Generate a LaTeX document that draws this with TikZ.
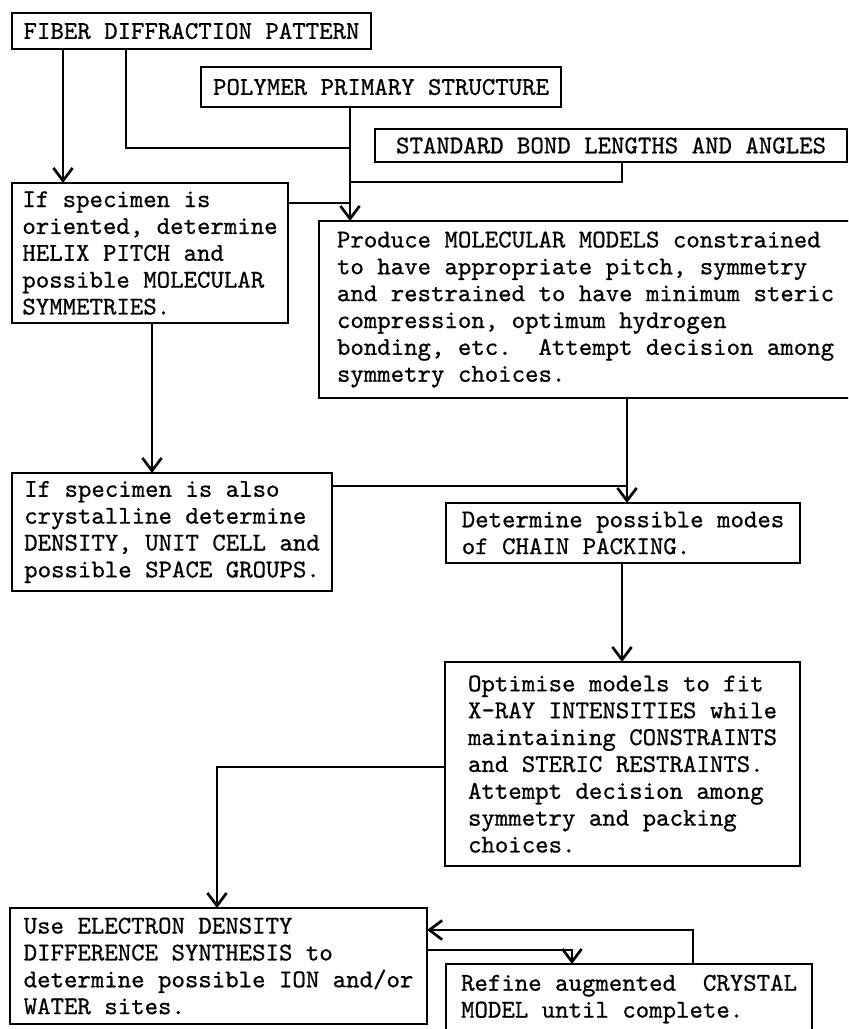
\documentclass[tikz,border=0pt]{standalone}
\usepackage{fontspec}
\newfontfamily\typewriter{lmmono10-regular.otf}[FakeBold=0.7]
\usetikzlibrary{arrows.meta}
\tikzset{
  stage/.style={draw, line width=1.9pt, rectangle, anchor=north west, align=left,
    inner sep=0pt, outer sep=0pt, font=\typewriter\fontsize{18.2}{19.1}\selectfont},
  link/.style={draw, line width=1.9pt},
  arr/.style={link, -{Straight Barb[length=3.2mm,width=4.8mm]}}
}

\begin{document}
\begin{tikzpicture}[x=0.025cm, y=-0.025cm]
  \useasboundingbox (0,0) rectangle (848,1029);
  \clip (0,0) rectangle (848,1029);

  % input boxes
  \node[stage, minimum width=8.975cm, minimum height=0.9cm] (fiber) at (12,13) {FIBER DIFFRACTION PATTERN};
  \node[stage, minimum width=9cm, minimum height=1cm] (polymer) at (201,67) {POLYMER PRIMARY STRUCTURE};
  \node[stage, minimum width=11.8cm, minimum height=0.825cm] (bond) at (375,129) {STANDARD BOND LENGTHS AND ANGLES};

  % steps
  \node[stage, minimum width=6.9cm, minimum height=3.5cm] (orient) at (12,183)
    {If specimen is\\oriented, determine\\HELIX PITCH and\\possible MOLECULAR\\SYMMETRIES.};
  \node[stage, minimum width=13.325cm, minimum height=4.425cm] (produce) at (319,221)
    {Produce MOLECULAR MODELS constrained\\to have appropriate pitch, symmetry\\and restrained to have minimum steric\\compression, optimum hydrogen\\bonding, etc.\ \ Attempt decision among\\symmetry choices.};
  \node[stage, minimum width=8cm, minimum height=2.95cm] (cryst) at (12,473)
    {If specimen is also\\crystalline determine\\DENSITY, UNIT CELL and\\possible SPACE GROUPS.};
  \node[stage, minimum width=8.85cm, minimum height=1.5cm] (packing) at (446,503)
    {Determine possible modes\\of CHAIN PACKING.};
  \node[stage, minimum width=8.875cm, minimum height=5.1cm] (optim) at (445,662)
    {Optimise models to fit\\X-RAY INTENSITIES while\\maintaining CONSTRAINTS\\and STERIC RESTRAINTS.\\Attempt decision among\\symmetry and packing\\choices.};
  \node[stage, minimum width=10.425cm, minimum height=2.9cm] (ediff) at (10,908)
    {Use ELECTRON DENSITY\\DIFFERENCE SYNTHESIS to\\determine possible ION and/or\\WATER sites.};
  \node[stage, minimum width=9.15cm, minimum height=1.75cm] (refine) at (446,964)
    {Refine augmented\ \ CRYSTAL\\MODEL until complete.};

  % bends and columns of the connectors
  \coordinate (fdown) at (63,0);
  \coordinate (fbend) at (126,148);
  \coordinate (pdown) at (350,0);
  \coordinate (bbend) at (622,182);
  \coordinate (ojoin) at (350,203);
  \coordinate (odown) at (152,0);
  \coordinate (cjoin) at (627,486);
  \coordinate (kdown) at (622,0);
  \coordinate (obend) at (217,767);
  \coordinate (rback) at (693,930);
  \coordinate (ebend) at (572,950);

  \draw[arr] (fiber.south -| fdown) -- (orient.north -| fdown);
  \draw[link] (fiber.south -| fbend) -- (fbend) -- (fbend -| pdown);
  \draw[arr] (polymer.south -| pdown) -- (produce.north -| pdown);
  \draw[link] (bond.south -| bbend) -- (bbend) -- (bbend -| pdown);
  \draw[link] (orient.east |- ojoin) -- (ojoin);
  \draw[arr] (orient.south -| odown) -- (cryst.north -| odown);
  \draw[arr] (produce.south -| cjoin) -- (packing.north -| cjoin);
  \draw[link] (cryst.east |- cjoin) -- (cjoin);
  \draw[arr] (packing.south -| kdown) -- (optim.north -| kdown);
  \draw[arr] (optim.west |- obend) -- (obend) -- (ediff.north -| obend);
  \draw[arr] (refine.north -| rback) -- (rback) -- (ediff.east |- rback);
  \draw[arr] (ediff.east |- ebend) -- (ebend) -- (refine.north -| ebend);
\end{tikzpicture}
\end{document}
